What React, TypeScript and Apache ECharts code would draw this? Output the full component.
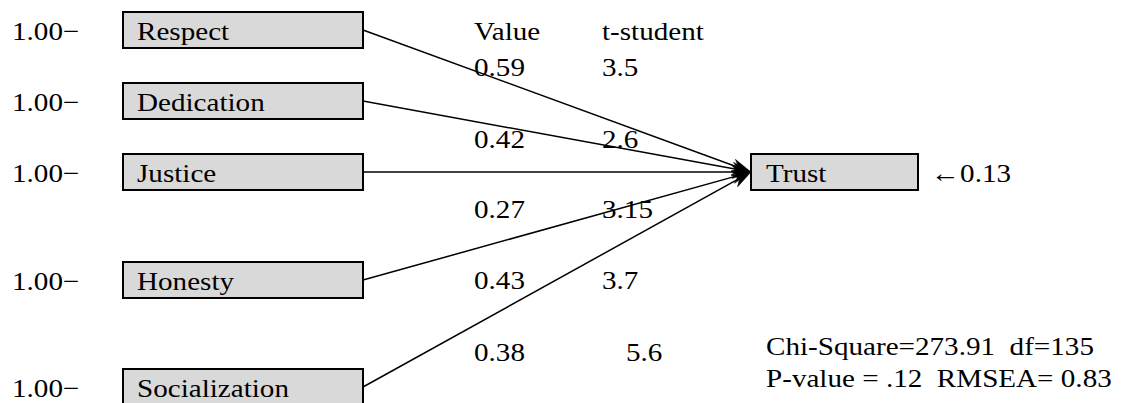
import React, { useEffect, useRef } from "react";
import * as echarts from "echarts";

// ---- data ----
const predictors = ["Respect", "Dedication", "Justice", "Honesty", "Socialization"];
const errorLoadings = ["1.00", "1.00", "1.00", "1.00", "1.00"];
const coefficients = ["0.59", "0.42", "0.27", "0.43", "0.38"];
const tStudent = ["3.5", "2.6", "3.15", "3.7", "5.6"];
const columnHeaders = ["Value", "t-student"];
const outcome = "Trust";
const outcomeError = "0.13";
const fitStats = ["Chi-Square=273.91  df=135", "P-value = .12  RMSEA= 0.83"];

// ---- layout (pixel space of the diagram) ----
const W = 1124;
const H = 403;
const rowY = [30, 101, 172, 280, 387];
const coefRowY = [67, 139, 209, 280, 352];
const tX = [602, 602, 602, 602, 626];
const boxX0 = 123;
const boxX1 = 363;
const boxH = 36;
const targetBox = { x0: 751, x1: 918, y: 172 };
const FS = 26;
const FAMILY = "Liberation Serif";
const SX = 1.12;

export default function App() {
  const ref = useRef<HTMLDivElement>(null);
  useEffect(() => {
    document.body.style.margin = "0";
    const chart = echarts.init(ref.current!, null, { renderer: "svg" });
    const option: any = {
      animation: false,
      backgroundColor: "#fff",
      grid: { left: 0, right: 0, top: 0, bottom: 0 },
      xAxis: { type: "value", min: 0, max: W, show: false },
      yAxis: { type: "value", min: 0, max: H, inverse: true, show: false },
      series: [
        {
          type: "custom",
          coordinateSystem: "cartesian2d",
          silent: true,
          data: predictors.map((_, i) => [i]),
          renderItem: (params: any, api: any) => {
            const i = api.value(0);
            const y = rowY[i];
            const tl = api.coord([boxX0, y - boxH / 2]);
            const br = api.coord([boxX1, y + boxH / 2]);
            const start = api.coord([boxX1, y]);
            const tip = api.coord([targetBox.x0, targetBox.y]);
            const dx = tip[0] - start[0];
            const dy = tip[1] - start[1];
            const len = Math.sqrt(dx * dx + dy * dy);
            const ux = dx / len;
            const uy = dy / len;
            const px = -uy;
            const py = ux;
            const aL = 19;
            const aW = 6.5;
            const notch = 13;
            const arrow = [
              [tip[0], tip[1]],
              [tip[0] - ux * aL + px * aW, tip[1] - uy * aL + py * aW],
              [tip[0] - ux * notch, tip[1] - uy * notch],
              [tip[0] - ux * aL - px * aW, tip[1] - uy * aL - py * aW],
            ];
            return {
              type: "group",
              children: [
                {
                  type: "rect",
                  shape: { x: tl[0], y: tl[1], width: br[0] - tl[0], height: br[1] - tl[1] },
                  style: { fill: "#d9d9d9", stroke: "#000", lineWidth: 2 },
                },
                {
                  type: "line",
                  shape: { x1: start[0], y1: start[1], x2: tip[0] - ux * 8, y2: tip[1] - uy * 8 },
                  style: { stroke: "#000", lineWidth: 1.5 },
                },
                {
                  type: "polygon",
                  shape: { points: arrow },
                  style: { fill: "#000", stroke: "#000", lineWidth: 0.5 },
                },
              ],
            };
          },
        },
        {
          type: "custom",
          coordinateSystem: "cartesian2d",
          silent: true,
          data: [[0]],
          renderItem: (params: any, api: any) => {
            const tl = api.coord([targetBox.x0, targetBox.y - boxH / 2]);
            const br = api.coord([targetBox.x1, targetBox.y + boxH / 2]);
            return {
              type: "rect",
              shape: { x: tl[0], y: tl[1], width: br[0] - tl[0], height: br[1] - tl[1] },
              style: { fill: "#d9d9d9", stroke: "#000", lineWidth: 2 },
            };
          },
        },
      ],
    };
    chart.setOption(option);

    // texts positioned through the grid's scales
    const items: { text: string; at: number[] }[] = [];
    predictors.forEach((p, i) => items.push({ text: p, at: [137, rowY[i] + 1] }));
    errorLoadings.forEach((e, i) => items.push({ text: e + "\u2212", at: [12, rowY[i] + 1] }));
    coefficients.forEach((c, i) => items.push({ text: c, at: [474, coefRowY[i]] }));
    tStudent.forEach((t, i) => items.push({ text: t, at: [tX[i], coefRowY[i]] }));
    items.push({ text: columnHeaders[0], at: [474, 31] });
    items.push({ text: columnHeaders[1], at: [602, 31] });
    items.push({ text: outcome, at: [766, targetBox.y + 1] });
    items.push({ text: "\u2190" + outcomeError, at: [931, targetBox.y + 1] });
    items.push({ text: fitStats[0], at: [766, 346] });
    items.push({ text: fitStats[1], at: [766, 378] });

    const graphic = items.map((it) => {
      const p: any = chart.convertToPixel({ gridIndex: 0 } as any, it.at);
      return {
        type: "text",
        x: p[0],
        y: p[1] - FS / 2,
        scaleX: SX,
        silent: true,
        z: 10,
        style: { text: it.text, fontFamily: FAMILY, fontSize: FS, fill: "#000" },
      };
    });
    chart.setOption({ graphic });
    return () => chart.dispose();
  }, []);
  return <div ref={ref} style={{ width: W + "px", height: H + "px" }} />;
}
